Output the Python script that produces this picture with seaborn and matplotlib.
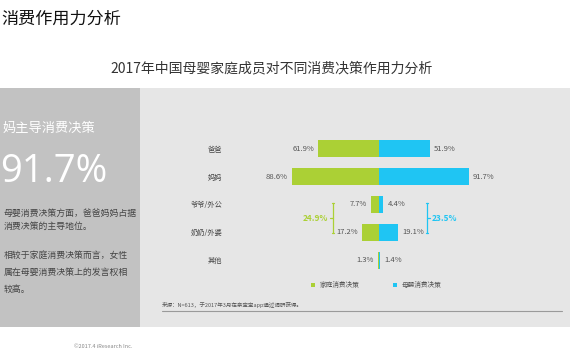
import matplotlib
matplotlib.use("Agg")
import matplotlib.pyplot as plt
from matplotlib.patches import Rectangle, Patch
from matplotlib.lines import Line2D
import seaborn as sns
import pandas as pd

# ---- data ----
members = ["爸爸", "妈妈", "爷爷/外公", "奶奶/外婆", "其他"]
family_decision = [61.9, 88.6, 7.7, 17.2, 1.3]      # 家庭消费决策 (left, green)
baby_decision = [51.9, 91.7, 4.4, 19.1, 1.4]        # 母婴消费决策 (right, blue)
series_names = ["家庭消费决策", "母婴消费决策"]
grand_family = family_decision[2] + family_decision[3]
grand_baby = baby_decision[2] + baby_decision[3]

GREEN = "#abd035"
BLUE = "#1fc5f3"

sns.set_theme(style="white")
plt.rcParams["font.family"] = ["Noto Sans CJK SC", "DejaVu Sans"]

W, H = 570, 360
fig = plt.figure(figsize=(W / 100, H / 100), dpi=100)
fig.patch.set_facecolor("white")


def P(x, y):
    return (x / W, 1 - y / H)


# background panels
fig.patches.append(Rectangle(P(0, 327), 140 / W, 239 / H, transform=fig.transFigure,
                             facecolor="#c2c2c2", edgecolor="none", zorder=-10))
fig.patches.append(Rectangle(P(140, 327), 430 / W, 239 / H, transform=fig.transFigure,
                             facecolor="#e6e6e6", edgecolor="none", zorder=-10))

# top titles
fig.text(*P(1, 19), "消费作用力分析", ha="left", va="center",
         fontsize=12.3, color="#111111")
fig.text(*P(272, 68), "2017年中国母婴家庭成员对不同消费决策作用力分析", ha="center",
         va="center", fontsize=10, color="#333333")

# left panel texts
fig.text(*P(3, 128), "妈主导消费决策", ha="left", va="center", fontsize=9.5, color="white")
fig.text(*P(0, 172), f"{baby_decision[1]:.1f}%", ha="left", va="center",
         fontsize=27.5, color="white", family=["Open Sans", "DejaVu Sans"])
body = [("母婴消费决策方面，爸爸妈妈占据", 213), ("消费决策的主导地位。", 226),
        ("相较于家庭消费决策而言，女性", 256), ("属在母婴消费决策上的发言权相", 272),
        ("较高。", 289)]
for t, yy in body:
    fig.text(*P(4, yy), t, ha="left", va="center", fontsize=6.4, color="#444444")

# ---- chart ----
ax = fig.add_axes([227 / W, 1 - 274 / H, 304 / W, 139 / H])
ax.set_facecolor("none")

df = pd.DataFrame({
    "member": members * 2,
    "value": [-v for v in family_decision] + list(baby_decision),
    "series": [series_names[0]] * len(members) + [series_names[1]] * len(members),
})
sns.barplot(data=df, y="member", x="value", hue="series", dodge=False, orient="h",
            palette=[GREEN, BLUE], width=0.61, ax=ax, legend=False, saturation=1,
            linewidth=0)

ax.set_xlim(-155, 155)
ax.set_ylim(4.5, -0.5)
ax.set_xlabel("")
ax.set_ylabel("")
ax.set_xticks([])
for s in ax.spines.values():
    s.set_visible(False)
ax.tick_params(axis="y", length=0, pad=3.5, labelsize=5.2, labelcolor="#444444")

for i, (f, b) in enumerate(zip(family_decision, baby_decision)):
    ax.annotate(f"{f:.1f}%", xy=(-f, i), xytext=(-3, 0), textcoords="offset points",
                ha="right", va="center", fontsize=5.5, color="#555555")
    ax.annotate(f"{b:.1f}%", xy=(b, i), xytext=(3, 0), textcoords="offset points",
                ha="left", va="center", fontsize=5.5, color="#555555")

# brackets
def bracket(x, color, label, side):
    y0, y1 = 1.94, 3.04
    ax.plot([x, x], [y0, y1], color=color, lw=0.9)
    for yy in (y0, y1):
        ax.plot([x - 1.2, x + 1.2], [yy, yy], color=color, lw=0.9)
    d = -1 if side == "left" else 1
    ax.plot([x, x + d * 2.5], [2.5, 2.5], color=color, lw=0.9)
    ax.annotate(label, xy=(x + d * 2.5, 2.5), xytext=(d * 1.5, 0), textcoords="offset points",
                ha="right" if side == "left" else "left", va="center",
                fontsize=6, color=color, fontweight="bold")

bracket(-47, GREEN, f"{grand_family:.1f}%", "left")
bracket(49, BLUE, f"{grand_baby:.1f}%", "right")

# legend
handles = [Patch(facecolor=GREEN, edgecolor="none"), Patch(facecolor=BLUE, edgecolor="none")]
fig.legend(handles, series_names, loc="center", bbox_to_anchor=P(376, 285), ncol=2,
           frameon=False, fontsize=4.8, handlelength=0.6, handleheight=0.6,
           handletextpad=0.75, columnspacing=5, labelcolor="#555555",
           borderpad=0, borderaxespad=0)

# source note + rule
fig.text(*P(162, 305), "来源：N=613，于2017年3月在亲宝宝app通过调研获得。", ha="left",
         va="center", fontsize=4, color="#555555")
fig.lines.append(Line2D([162 / W, 562 / W], [1 - 311 / H] * 2, transform=fig.transFigure,
                        color="#9a9a9a", lw=0.8))

# footer
fig.text(*P(74, 346), "©2017.4 iResearch Inc.", ha="left", va="center", fontsize=4,
         color="#888888")

fig.savefig("out.png", dpi=100)
